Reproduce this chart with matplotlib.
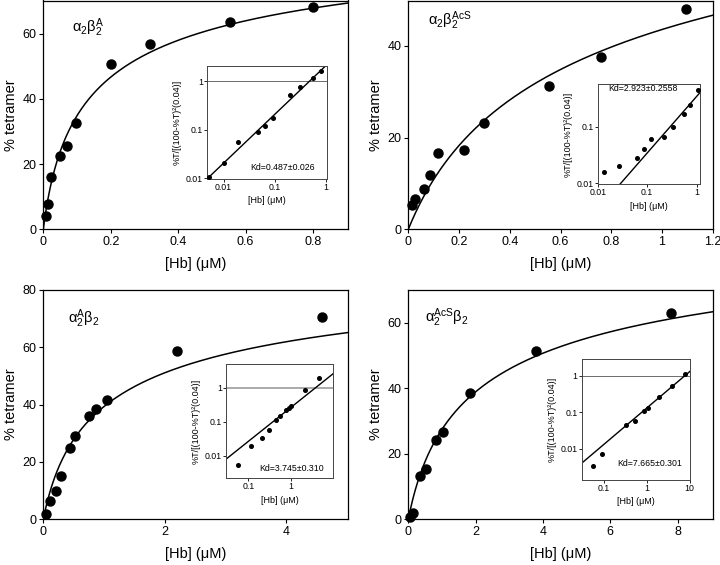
import numpy as np
import matplotlib
matplotlib.use("Agg")
import matplotlib.pyplot as plt
from matplotlib.ticker import FixedLocator, FuncFormatter, NullLocator

plt.rcParams['font.family'] = ['Liberation Sans', 'DejaVu Sans']
plt.rcParams['mathtext.fontset'] = 'custom'
plt.rcParams['mathtext.rm'] = 'Liberation Sans'
plt.rcParams['mathtext.it'] = 'Liberation Sans:italic'

# ---------------- data ----------------
titles = [r'$\mathregular{α_2β_2^A}$', r'$\mathregular{α_2β_2^{AcS}}$',
          r'$\mathregular{α_2^Aβ_2}$', r'$\mathregular{α_2^{AcS}β_2}$']
kd_values = [0.487, 2.923, 3.745, 7.665]
kd_labels = ['Kd=0.487±0.026', 'Kd=2.923±0.2558', 'Kd=3.745±0.310', 'Kd=7.665±0.301']

# main panels: [Hb] (uM) and % tetramer
hb1 = [0.008, 0.013, 0.023, 0.051, 0.069, 0.097, 0.202, 0.317, 0.554, 0.799]
pt1 = [4.1, 7.7, 15.9, 22.4, 25.7, 32.6, 50.8, 57.0, 63.7, 68.2]
hb2 = [0.016, 0.026, 0.063, 0.085, 0.116, 0.218, 0.297, 0.555, 0.760, 1.094]
pt2 = [5.3, 6.7, 8.7, 11.9, 16.7, 17.3, 23.2, 31.2, 37.5, 48.0]
hb3 = [0.044, 0.110, 0.209, 0.297, 0.434, 0.516, 0.753, 0.874, 1.055, 2.203, 4.593]
pt3 = [1.7, 6.5, 10.0, 15.2, 24.8, 29.1, 36.2, 38.6, 41.6, 58.6, 70.5]
hb4 = [0.05, 0.13, 0.36, 0.53, 0.83, 1.03, 1.84, 3.80, 7.80]
pt4 = [0.6, 1.8, 13.2, 15.3, 24.2, 26.7, 38.5, 51.3, 62.9]

# insets: [Hb] and %T/[(100-%T)^2(0.04)]
ihb1 = [0.00524, 0.0103, 0.0188, 0.0479, 0.0637, 0.0914, 0.203, 0.318, 0.573, 0.81]
iy1 = [0.0105, 0.021, 0.055, 0.091, 0.117, 0.177, 0.515, 0.753, 1.15, 1.60]
ihb2 = [0.0136, 0.0274, 0.0633, 0.0876, 0.119, 0.219, 0.338, 0.546, 0.733, 1.047]
iy2 = [0.0156, 0.0205, 0.028, 0.0398, 0.0614, 0.0667, 0.1, 0.167, 0.241, 0.443]
ihb3 = [0.0564, 0.113, 0.212, 0.309, 0.451, 0.539, 0.771, 0.875, 1.0, 2.16, 4.51]
iy3 = [0.00543, 0.0201, 0.0331, 0.0569, 0.112, 0.147, 0.225, 0.247, 0.302, 0.854, 1.97]
ihb4 = [0.0564, 0.093, 0.338, 0.539, 0.859, 1.06, 1.96, 3.87, 7.93]
iy4 = [0.00342, 0.00714, 0.0455, 0.0573, 0.1076, 0.1356, 0.2604, 0.532, 1.135]

main_x = [hb1, hb2, hb3, hb4]
main_y = [pt1, pt2, pt3, pt4]
ins_x = [ihb1, ihb2, ihb3, ihb4]
ins_y = [iy1, iy2, iy3, iy4]

main_xlim = [(0, 0.905), (0, 1.2), (0, 5.03), (0, 9.04)]
main_ylim = [(0, 70.2), (0, 49.9), (0, 80), (0, 70)]
main_xticks = [[0, 0.2, 0.4, 0.6, 0.8], [0, 0.2, 0.4, 0.6, 0.8, 1.0, 1.2], [0, 2, 4], [0, 2, 4, 6, 8]]
main_yticks = [[0, 20, 40, 60], [0, 20, 40], [0, 20, 40, 60, 80], [0, 20, 40, 60]]
ins_xlim = [(0.0048, 1.08), (0.01, 1.17), (0.030, 9.8), (0.031, 10.2)]
ins_ylim = [(0.0097, 2.07), (0.0096, 0.56), (0.0022, 4.9), (0.0014, 2.9)]
ins_xticks = [[0.01, 0.1, 1], [0.01, 0.1, 1], [0.1, 1, 10], [0.1, 1, 10]]
ins_yticks = [[0.01, 0.1, 1], [0.01, 0.1], [0.01, 0.1, 1], [0.01, 0.1, 1]]

# ---------------- layout (pixels) ----------------
W, H = 720, 565
main_box = [(43.3, 0.5, 348.3, 229.3), (408.3, 0.5, 712.7, 229.3),
            (43.3, 290, 348.3, 519.3), (408.3, 290, 712.7, 519.3)]
ins_box = [(207.3, 65.7, 327.3, 179), (597.7, 84.3, 700, 184.3),
           (226, 364.3, 333.3, 478.3), (581.7, 359, 690, 480)]
title_pos = [(0.093, 0.88), (0.065, 0.91), (0.082, 0.873), (0.055, 0.88)]
kd_pos = [(0.36, 0.10, 'center'), (0.10, 0.955, 'center'), (0.31, 0.09, 'center'), (0.33, 0.14, 'center')]
refline_style = [dict(color='#555555', lw=0.6), None, dict(color='#aaaaaa', lw=1.4), dict(color='#555555', lw=0.6)]


def rect(b):
    x0, y0, x1, y1 = b
    return [x0 / W, 1 - y1 / H, (x1 - x0) / W, (y1 - y0) / H]


def fmt(v, pos):
    return '%g' % v


fig = plt.figure(figsize=(7.2, 5.65), dpi=100)

for i in range(4):
    ax = fig.add_axes(rect(main_box[i]))
    kd = kd_values[i]
    c = np.linspace(0, main_xlim[i][1], 400)
    k = 4 * c / kd
    with np.errstate(divide='ignore', invalid='ignore'):
        f = np.where(k > 0, ((2 * k + 1) - np.sqrt(4 * k + 1)) / (2 * np.where(k > 0, k, 1)), 0.0)
    ax.plot(c, 100 * f, color='black', lw=1.1, zorder=2, clip_on=True)
    ax.plot(main_x[i], main_y[i], 'o', color='black', ms=6.5, zorder=3, clip_on=False)
    ax.set_xlim(*main_xlim[i])
    ax.set_ylim(*main_ylim[i])
    ax.set_xticks(main_xticks[i])
    ax.set_yticks(main_yticks[i])
    ax.xaxis.set_major_formatter(FuncFormatter(fmt))
    ax.yaxis.set_major_formatter(FuncFormatter(fmt))
    ax.tick_params(direction='out', length=3, width=0.8, labelsize=9, pad=2,
                   top=False, right=False)
    for s in ax.spines.values():
        s.set_linewidth(0.9)
    ax.set_xlabel('[Hb] (μM)', fontsize=10.5, labelpad=6)
    ax.set_ylabel('% tetramer', fontsize=10.5, labelpad=3)
    ax.text(title_pos[i][0], title_pos[i][1], titles[i], transform=ax.transAxes,
            fontsize=10.5, ha='left', va='center')

    # inset
    ia = fig.add_axes(rect(ins_box[i]))
    ia.set_xscale('log')
    ia.set_yscale('log')
    ia.set_xlim(*ins_xlim[i])
    ia.set_ylim(*ins_ylim[i])
    xl = np.array(ins_xlim[i])
    ia.plot(xl, xl / kd, color='black', lw=1.0, zorder=2)
    if refline_style[i] is not None:
        ia.axhline(1.0, zorder=1, **refline_style[i])
    ia.plot(ins_x[i], ins_y[i], 'o', color='black', ms=2.6, zorder=3)
    ia.xaxis.set_major_locator(FixedLocator(ins_xticks[i]))
    ia.yaxis.set_major_locator(FixedLocator(ins_yticks[i]))
    ia.xaxis.set_minor_locator(NullLocator())
    ia.yaxis.set_minor_locator(NullLocator())
    ia.xaxis.set_major_formatter(FuncFormatter(fmt))
    ia.yaxis.set_major_formatter(FuncFormatter(fmt))
    ia.tick_params(direction='out', length=2, width=0.6, labelsize=6.3, pad=1,
                   top=False, right=False)
    for s in ia.spines.values():
        s.set_linewidth(0.7)
        s.set_color('#444444')
    ia.set_xlabel('[Hb] (μM)', fontsize=6.5, labelpad=3)
    ia.set_ylabel('%T/[(100-%T)²(0.04)]', fontsize=6.5, labelpad=3)
    ia.text(kd_pos[i][0], kd_pos[i][1], kd_labels[i], transform=ia.transAxes,
            fontsize=6.3, ha='left', va=kd_pos[i][2])

fig.savefig('out.png', dpi=100)
